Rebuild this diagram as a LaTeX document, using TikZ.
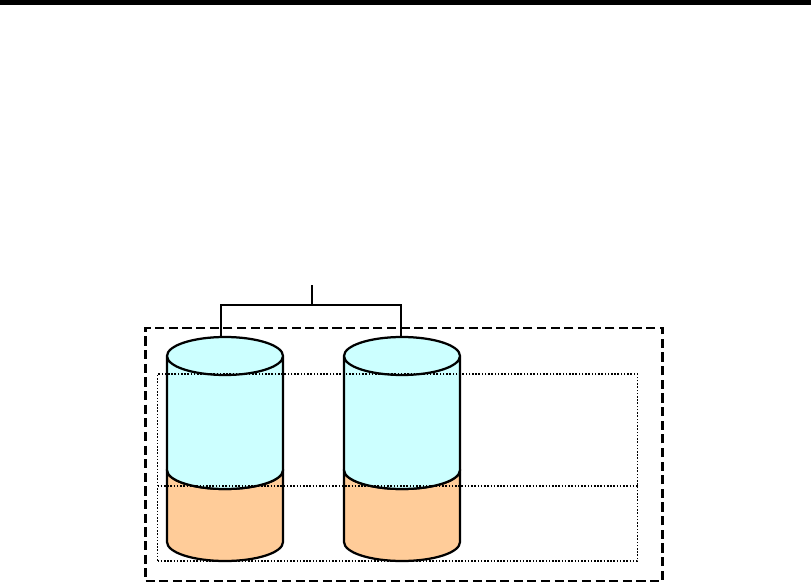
\documentclass[tikz,border=0pt]{standalone}
\usepackage{xcolor}
\definecolor{cylcyan}{RGB}{204,255,255}
\definecolor{cylorange}{RGB}{255,204,153}
\usetikzlibrary{shapes.geometric}
\begin{document}
\begin{tikzpicture}[
  cyl/.style={draw,line width=1.6pt,shape=cylinder,shape border rotate=90,aspect=0.3275,
    minimum width=2.9cm,outer sep=0pt,inner sep=0pt,anchor=shape center},
  upperpart/.style={cyl,fill=cylcyan,minimum height=3.8cm},
  lowerpart/.style={cyl,fill=cylorange,minimum height=2.75cm},
  link/.style={draw,line width=1.5pt},
  outerbox/.style={draw,line width=1.5pt,dash pattern=on 6.5pt off 3.2pt},
  innerbox/.style={draw,line width=1.3pt,dash pattern=on 1.1pt off 1.2pt}
]
  \useasboundingbox (0,0) rectangle (20.275,14.6);
  % top rule
  \fill[black] (0,14.475) rectangle (20.275,14.6);
  % outer frame
  \node[outerbox,minimum width=12.925cm,minimum height=6.325cm,outer sep=0pt] (outer) at (10.1,3.2375) {};
  % left disk
  \node[lowerpart] (lowa) at (5.625,1.95) {\rule{2.9cm}{0pt}};
  \node[upperpart] (cyla) at (5.625,4.275) {\rule{2.9cm}{0pt}};
  % right disk
  \node[lowerpart] (lowb) at (10.05,1.95) {\rule{2.9cm}{0pt}};
  \node[upperpart] (cylb) at (10.05,4.275) {\rule{2.9cm}{0pt}};
  % inner frame and split line
  \node[innerbox,minimum width=12cm,minimum height=4.675cm,outer sep=0pt] (inner) at (9.9375,2.9125) {};
  \draw[innerbox] (inner.west |- 0,2.45) coordinate (splitw) -- (inner.east |- 0,2.45) coordinate (splite);
  % connector
  \coordinate (stem) at (7.8,7.475);
  \coordinate (bus) at (7.8,6.975);
  \draw[link] (stem) -- (bus);
  \draw[link] ([xshift=-1mm]cyla.north) |- (bus);
  \draw[link] ([xshift=-0.25mm]cylb.north) |- (bus);
\end{tikzpicture}
\end{document}
